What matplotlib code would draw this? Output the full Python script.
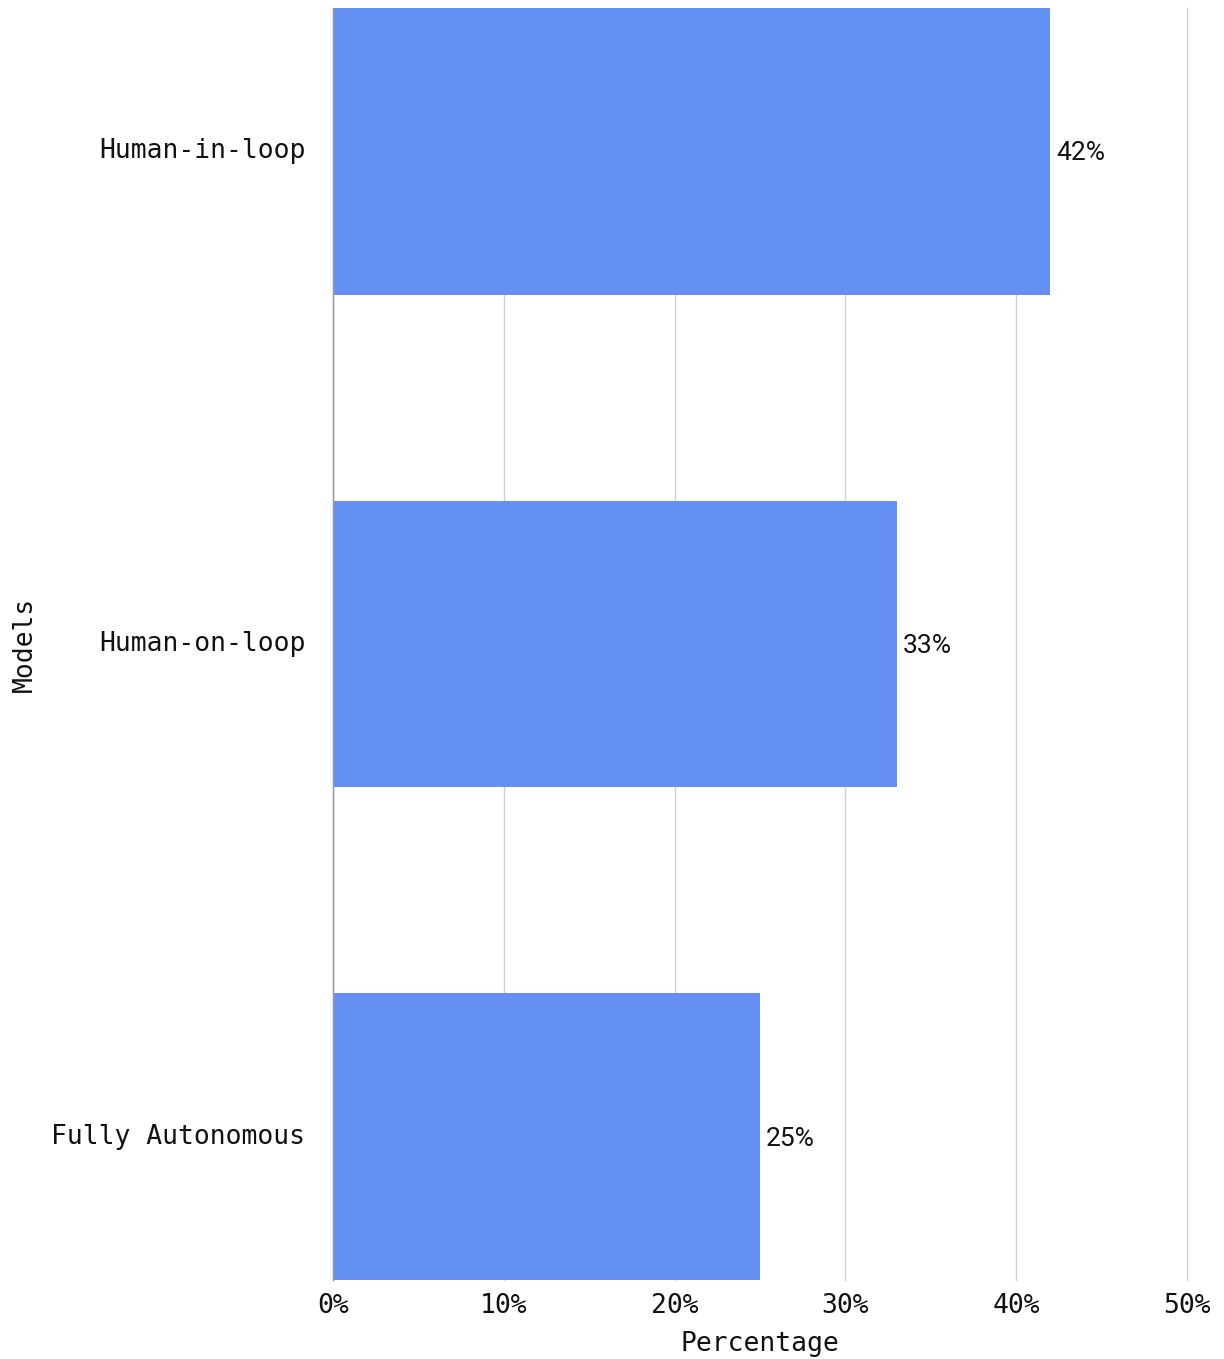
import matplotlib
matplotlib.use("Agg")
import matplotlib.pyplot as plt
import matplotlib.transforms as mtransforms
from matplotlib.ticker import PercentFormatter

models = ["Human-in-loop", "Human-on-loop", "Fully Autonomous"]
percentages = [42, 33, 25]
x_ticks = [0, 10, 20, 30, 40, 50]

bar_color = "#6390F2"
mono = "DejaVu Sans Mono"

fig = plt.figure(figsize=(12.24, 13.59), dpi=100)
ax = fig.add_axes([0.272, 0.0581, 0.6977, 0.9360])

ypos = list(range(len(models)))
bar_h = 0.582
ax.barh(ypos, percentages, height=bar_h, color=bar_color, zorder=2)

for y, v in zip(ypos, percentages):
    ax.annotate(f"{v}%", xy=(v, y), xytext=(6, -2), textcoords="offset pixels",
                ha="left", va="center", fontsize=19, family="Roboto", color="#111111")

ax.set_xlim(0, 50)
ax.set_ylim(len(models) - 1 + bar_h / 2, -bar_h / 2)
ax.set_xticks(x_ticks)
ax.xaxis.set_major_formatter(PercentFormatter(decimals=0))
ax.set_yticks(ypos)
ax.set_yticklabels(models)

ax.grid(axis="x", color="#d0d0d0", linewidth=1, zorder=0)
ax.set_axisbelow(True)
for line in ax.get_xgridlines():
    line.set_clip_on(False)
for s in ["top", "right", "bottom"]:
    ax.spines[s].set_visible(False)
ax.spines["left"].set_color("#999999")
ax.spines["left"].set_linewidth(1)

ax.tick_params(axis="both", length=0, labelsize=19, labelcolor="#111111")
ax.tick_params(axis="x", pad=9)
ax.tick_params(axis="y", pad=20)
for lab in ax.get_xticklabels() + ax.get_yticklabels():
    lab.set_family(mono)
lift = mtransforms.ScaledTranslation(0, 3 / 100, fig.dpi_scale_trans)
for lab in ax.get_yticklabels():
    lab.set_verticalalignment("center_baseline")
    lab.set_transform(lab.get_transform() + lift)

ax.set_xlabel("Percentage", fontsize=19, family=mono, color="#111111", labelpad=9)
ax.set_ylabel("Models", fontsize=19, family=mono, color="#111111")
ax.yaxis.set_label_coords(-0.345, 0.5)

fig.savefig("out.png", dpi=100)
